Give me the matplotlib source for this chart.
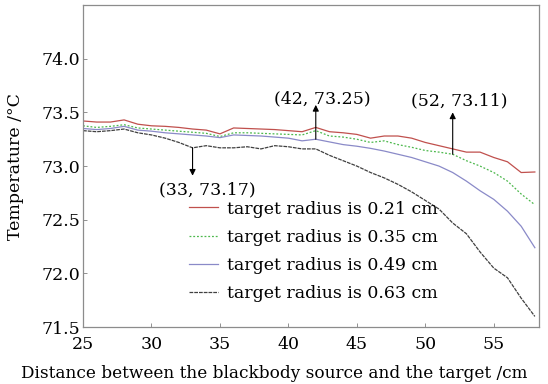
import matplotlib
matplotlib.use("Agg")
import matplotlib.pyplot as plt

plt.rcParams['font.family'] = ['DejaVu Serif']
plt.rcParams['mathtext.fontset'] = 'dejavuserif'

# distance between blackbody source and target (cm)
distance = list(range(25, 59))

temp_021 = [73.42, 73.41, 73.41, 73.43, 73.39, 73.375, 73.37, 73.36, 73.345, 73.335,
            73.30, 73.355, 73.35, 73.345, 73.34, 73.33, 73.32, 73.36, 73.32, 73.31,
            73.295, 73.26, 73.28, 73.28, 73.26, 73.22, 73.19, 73.16, 73.13, 73.13,
            73.08, 73.04, 72.94, 72.945]
temp_035 = [73.375, 73.36, 73.37, 73.385, 73.355, 73.345, 73.335, 73.325, 73.315, 73.305,
            73.275, 73.31, 73.31, 73.305, 73.30, 73.295, 73.29, 73.33, 73.28, 73.27,
            73.25, 73.22, 73.235, 73.20, 73.175, 73.145, 73.13, 73.11, 73.05, 73.00,
            72.94, 72.86, 72.74, 72.64]
temp_049 = [73.35, 73.34, 73.35, 73.37, 73.335, 73.325, 73.31, 73.30, 73.29, 73.28,
            73.265, 73.29, 73.285, 73.28, 73.27, 73.26, 73.235, 73.25, 73.225, 73.20,
            73.185, 73.165, 73.14, 73.11, 73.08, 73.04, 73.00, 72.94, 72.86, 72.77,
            72.69, 72.58, 72.44, 72.24]
temp_063 = [73.33, 73.32, 73.33, 73.345, 73.31, 73.29, 73.26, 73.22, 73.17, 73.19,
            73.17, 73.17, 73.18, 73.16, 73.19, 73.18, 73.16, 73.16, 73.10, 73.05,
            73.00, 72.94, 72.89, 72.83, 72.76, 72.68, 72.60, 72.47, 72.37, 72.20,
            72.05, 71.96, 71.77, 71.60]

labels = ['target radius is 0.21 cm', 'target radius is 0.35 cm',
          'target radius is 0.49 cm', 'target radius is 0.63 cm']

# marked points: (series index, distance)
marks = [(3, 33), (2, 42), (1, 52)]

fig = plt.figure(figsize=(5.48, 3.84), dpi=100)
ax = fig.add_axes([0.1515, 0.148, 0.832, 0.839])

series = [temp_021, temp_035, temp_049, temp_063]
ax.plot(distance, temp_021, color='#c0504d', lw=0.9, label=labels[0])
ax.plot(distance, temp_035, color='#4cb84c', lw=0.9, ls=(0, (1.5, 1.5)), label=labels[1])
ax.plot(distance, temp_049, color='#8a8ac8', lw=0.9, label=labels[2])
ax.plot(distance, temp_063, color='#404040', lw=0.9, ls=(0, (3, 0.8)), label=labels[3])

# arrows from the curve to the coordinate labels
text_pos = {33: (34.1, 72.78), 42: (42.5, 73.63), 52: (52.5, 73.61)}
head_y = {33: 72.91, 42: 73.57, 52: 73.50}
for idx, x in marks:
    y = series[idx][distance.index(x)]
    ax.annotate('', xy=(x, head_y[x]), xytext=(x, y),
                arrowprops=dict(arrowstyle='-|>', color='black', lw=0.8,
                                mutation_scale=9, shrinkA=0, shrinkB=0))
    tx, ty = text_pos[x]
    ax.text(tx, ty, f'({x}, {y:.2f})', ha='center', va='center', fontsize=12.5)

ax.set_xlim(25, 58.3)
ax.set_ylim(71.5, 74.5)
ax.set_xticks([25, 30, 35, 40, 45, 50, 55])
ax.set_yticks([71.5, 72.0, 72.5, 73.0, 73.5, 74.0])
ax.set_yticklabels(['71.5', '72.0', '72.5', '73.0', '73.5', '74.0'])
ax.tick_params(direction='in', length=3, width=0.6, color='#808080', labelsize=12.5, pad=2)
ax.tick_params(axis='x', pad=6)
for s in ax.spines.values():
    s.set_color('#8c8c8c')
    s.set_linewidth(0.9)

ax.set_xlabel('Distance between the blackbody source and the target /cm', fontsize=12.2)
ax.xaxis.set_label_coords(0.419, -0.118)
ax.set_ylabel('Temperature /°C', fontsize=12.5)
ax.yaxis.set_label_coords(-0.13, 0.5)

ax.legend(loc='lower left', bbox_to_anchor=(0.213, 0.05), frameon=False, fontsize=12.5,
          handlelength=1.7, handletextpad=0.5, labelspacing=0.65, borderpad=0)

fig.savefig('out.png', dpi=100)
